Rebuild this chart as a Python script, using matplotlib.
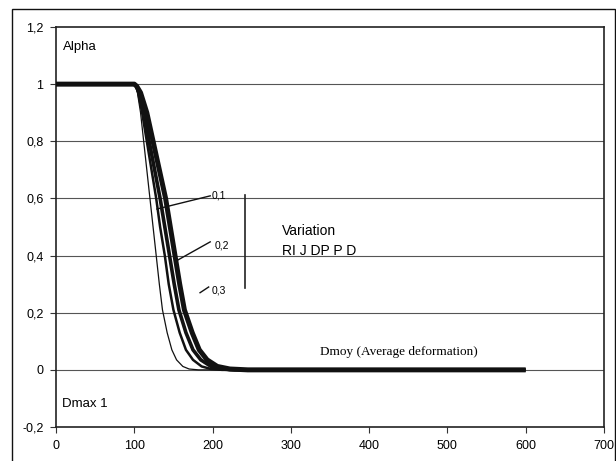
import matplotlib
matplotlib.use("Agg")
import matplotlib.pyplot as plt
from matplotlib.patches import Rectangle

plt.rcParams["font.family"] = ["Liberation Sans", "DejaVu Sans"]

# alpha levels shared by all curves, x positions per curve
alpha_levels = [1, 1, 0.993, 0.97, 0.9, 0.8, 0.7, 0.6, 0.5, 0.4, 0.3, 0.21, 0.13, 0.07, 0.035, 0.012, 0.003, 0, 0]
x_base = [0, 100, 102, 104, 108, 112, 116, 120, 124, 128, 132, 136, 142, 148, 154, 162, 170, 182, 600]
x_01 = [0, 100, 102, 105, 110, 116, 122, 128, 133, 139, 144, 150, 158, 166, 175, 186, 198, 212, 600]
x_02 = [0, 100, 103, 106, 113, 119, 126, 133, 139, 145, 151, 157, 166, 175, 185, 198, 212, 228, 600]
x_03 = [0, 100, 103, 108, 116, 124, 132, 140, 146, 152, 158, 164, 174, 183, 193, 206, 222, 245, 600]

curves = [x_base, x_01, x_02, x_03]
widths = [0.9, 1.8, 2.6, 3.6]

y_ticks = [-0.2, 0, 0.2, 0.4, 0.6, 0.8, 1, 1.2]
y_labels = ["-0,2", "0", "0,2", "0,4", "0,6", "0,8", "1", "1,2"]
x_ticks = [0, 100, 200, 300, 400, 500, 600, 700]

fig = plt.figure(figsize=(6.16, 4.61), dpi=100)
ax = fig.add_axes([56 / 616, 1 - 427 / 461, 548 / 616, 400 / 461])

# horizontal gridlines
for y in y_ticks[1:-1]:
    ax.axhline(y, color="#555555", lw=0.8, zorder=1)

for xs, lw in zip(curves, widths):
    ax.plot(xs, alpha_levels, color="#111111", lw=lw, solid_capstyle="butt",
            solid_joinstyle="round", zorder=3)

ax.set_xlim(0, 700)
ax.set_ylim(-0.2, 1.2)
ax.set_xticks(x_ticks)
ax.set_xticklabels([str(v) for v in x_ticks])
ax.set_yticks(y_ticks)
ax.set_yticklabels(y_labels)
ax.tick_params(direction="out", length=4, width=0.8, labelsize=9, color="#333333", pad=5)
for s in ax.spines.values():
    s.set_color("#222222")
    s.set_linewidth(1.2)

# annotations
ax.text(9, 1.13, "Alpha", fontsize=9.5, va="center", ha="left")
ax.text(8, -0.12, "Dmax 1", fontsize=9.5, va="center", ha="left")
ax.text(337, 0.063, "Dmoy (Average deformation)", fontsize=9.5, va="center", ha="left",
        family="Liberation Serif")
ax.text(289, 0.487, "Variation", fontsize=10, va="center", ha="left")
ax.text(289, 0.417, "RI J DP P D", fontsize=10, va="center", ha="left")
ax.plot([241, 241], [0.287, 0.613], color="#222222", lw=1.2)

ax.text(199, 0.609, "0,1", fontsize=7.5, va="center", ha="left")
ax.text(202, 0.434, "0,2", fontsize=7.5, va="center", ha="left")
ax.text(199, 0.277, "0,3", fontsize=7.5, va="center", ha="left")
ax.plot([197, 129], [0.609, 0.563], color="#111111", lw=1)
ax.plot([197, 156], [0.448, 0.385], color="#111111", lw=1)
ax.plot([195, 184], [0.29, 0.27], color="#111111", lw=1)

# outer chart frame
fig.patches.append(Rectangle((12 / 616, -0.01), 603 / 616, 1 - 9 / 461 + 0.01,
                             transform=fig.transFigure, fill=False,
                             edgecolor="#111111", lw=1))

fig.savefig("out.png", dpi=100)
